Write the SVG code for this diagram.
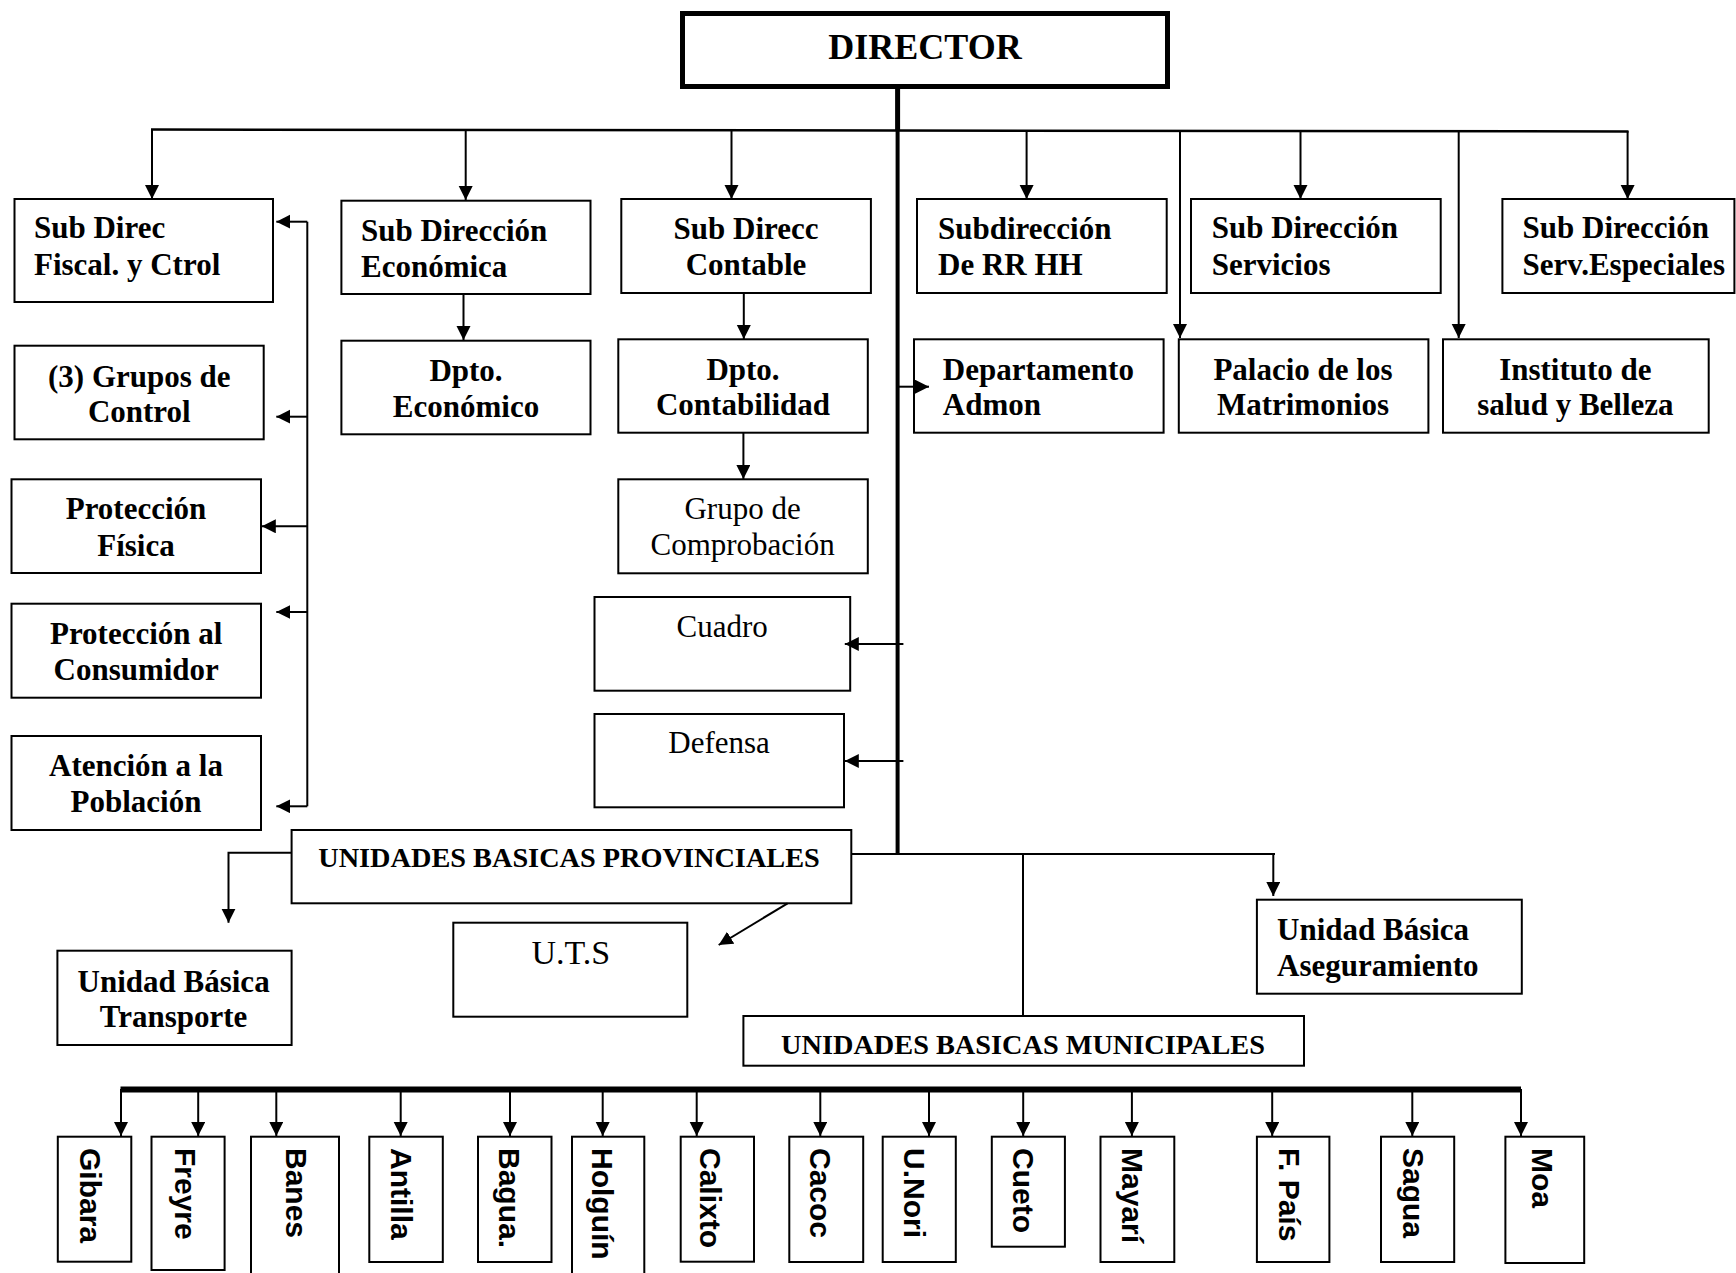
<svg xmlns="http://www.w3.org/2000/svg" width="1736" height="1273" viewBox="0 0 1736 1273">
  <defs>
    <marker id="arrow" markerUnits="userSpaceOnUse" markerWidth="16" markerHeight="16" refX="14" refY="7" orient="auto">
      <path d="M0,0 L14,7 L0,14 z" fill="#000"/>
    </marker>
    <style>
      .box { fill: #fff; stroke: #000; stroke-width: 2; }
      .t { font-family: "Liberation Serif", "Times New Roman", serif; font-weight: bold; font-size: 31px; fill: #000; }
      .r { font-weight: normal; }
      .c { text-anchor: middle; }
      .v { font-family: "Liberation Sans", Arial, sans-serif; font-weight: bold; font-size: 30px; fill: #000; }
      .ln { fill: none; stroke: #000; stroke-width: 2; }
      .arr { fill: none; stroke: #000; stroke-width: 2; marker-end: url(#arrow); }
    </style>
  </defs>

  <rect width="1736" height="1273" fill="#fff"/>

  <!-- nodes -->
  <g id="director">
    <rect x="682.5" y="13.5" width="485" height="73" fill="#fff" stroke="#000" stroke-width="5"/>
    <text class="t c" x="925" y="59" style="font-size:36px">DIRECTOR</text>
  </g>
  <g id="sub-fiscal">
    <rect class="box" x="14.5" y="199" width="258.5" height="103"/>
    <text class="t" x="34" y="238">Sub Direc</text>
    <text class="t" x="34" y="275">Fiscal. y Ctrol</text>
  </g>
  <g id="sub-economica">
    <rect class="box" x="341.4" y="200.7" width="249.1" height="93.3"/>
    <text class="t" x="361" y="240.7">Sub Dirección</text>
    <text class="t" x="361" y="276.7">Económica</text>
  </g>
  <g id="sub-contable">
    <rect class="box" x="621.3" y="199" width="249.6" height="94"/>
    <text class="t c" x="746" y="238.7">Sub Direcc</text>
    <text class="t c" x="746" y="275.3">Contable</text>
  </g>
  <g id="sub-rrhh">
    <rect class="box" x="917" y="199" width="249.7" height="94"/>
    <text class="t" x="938" y="238.7">Subdirección</text>
    <text class="t" x="938" y="275.3">De RR HH</text>
  </g>
  <g id="sub-servicios">
    <rect class="box" x="1191" y="199" width="249.7" height="94"/>
    <text class="t" x="1211.7" y="238">Sub Dirección</text>
    <text class="t" x="1211.7" y="275">Servicios</text>
  </g>
  <g id="sub-serv-especiales">
    <rect class="box" x="1502.4" y="199" width="232" height="94"/>
    <text class="t" x="1522.6" y="238">Sub Dirección</text>
    <text class="t" x="1522.6" y="275">Serv.Especiales</text>
  </g>
  <g id="grupos-control">
    <rect class="box" x="14.5" y="345.7" width="249.2" height="93.6"/>
    <text class="t c" x="139.3" y="386.7">(3) Grupos de</text>
    <text class="t c" x="139.3" y="422.3">Control</text>
  </g>
  <g id="dpto-economico">
    <rect class="box" x="341.4" y="340.7" width="249.1" height="93.6"/>
    <text class="t c" x="466" y="381">Dpto.</text>
    <text class="t c" x="466" y="416.7">Económico</text>
  </g>
  <g id="dpto-contabilidad">
    <rect class="box" x="618.3" y="339.3" width="249.5" height="93.4"/>
    <text class="t c" x="743" y="380">Dpto.</text>
    <text class="t c" x="743" y="415">Contabilidad</text>
  </g>
  <g id="dpto-admon">
    <rect class="box" x="914" y="339.3" width="249.6" height="93.4"/>
    <text class="t" x="942.8" y="380">Departamento</text>
    <text class="t" x="942.8" y="415">Admon</text>
  </g>
  <g id="palacio">
    <rect class="box" x="1178.8" y="339.3" width="249.6" height="93.4"/>
    <text class="t c" x="1303" y="380">Palacio de los</text>
    <text class="t c" x="1303" y="415">Matrimonios</text>
  </g>
  <g id="instituto">
    <rect class="box" x="1443" y="339.3" width="265.7" height="93.4"/>
    <text class="t c" x="1575.4" y="380">Instituto de</text>
    <text class="t c" x="1575.4" y="415">salud y Belleza</text>
  </g>
  <g id="proteccion-fisica">
    <rect class="box" x="11.5" y="479.3" width="249.5" height="93.7"/>
    <text class="t c" x="136" y="519.3">Protección</text>
    <text class="t c" x="136" y="556">Física</text>
  </g>
  <g id="grupo-comprobacion">
    <rect class="box" x="618.3" y="479.3" width="249.5" height="94"/>
    <text class="t r c" x="742.6" y="519">Grupo de</text>
    <text class="t r c" x="742.6" y="555">Comprobación</text>
  </g>
  <g id="proteccion-consumidor">
    <rect class="box" x="11.5" y="603.7" width="249.5" height="94"/>
    <text class="t c" x="136.2" y="644">Protección al</text>
    <text class="t c" x="136.2" y="680">Consumidor</text>
  </g>
  <g id="cuadro">
    <rect class="box" x="594.5" y="597" width="255.7" height="93.7"/>
    <text class="t r c" x="722.2" y="636.7">Cuadro</text>
  </g>
  <g id="defensa">
    <rect class="box" x="594.5" y="714" width="249.5" height="93.3"/>
    <text class="t r c" x="719.1" y="753.3">Defensa</text>
  </g>
  <g id="atencion-poblacion">
    <rect class="box" x="11.5" y="736" width="249.5" height="94"/>
    <text class="t c" x="136" y="775.7">Atención a la</text>
    <text class="t c" x="136" y="812.3">Población</text>
  </g>
  <g id="ub-provinciales">
    <rect class="box" x="291.6" y="830" width="559.7" height="73.3"/>
    <text class="t c" x="569" y="866.7" style="font-size:28.3px">UNIDADES BASICAS PROVINCIALES</text>
  </g>
  <g id="ub-transporte">
    <rect class="box" x="57.4" y="950.7" width="234.2" height="94.3"/>
    <text class="t c" x="173.6" y="991.7">Unidad Básica</text>
    <text class="t c" x="173.6" y="1027.3">Transporte</text>
  </g>
  <g id="uts">
    <rect class="box" x="453.3" y="922.7" width="234" height="94"/>
    <text class="t r c" x="570.8" y="964" style="font-size:34px">U.T.S</text>
  </g>
  <g id="ub-aseguramiento">
    <rect class="box" x="1256.9" y="899.7" width="264.9" height="94"/>
    <text class="t" x="1277" y="940">Unidad Básica</text>
    <text class="t" x="1277" y="975.7">Aseguramiento</text>
  </g>
  <g id="ub-municipales">
    <rect class="box" x="743.4" y="1016" width="560.6" height="49.7"/>
    <text class="t c" x="1023" y="1054" style="font-size:28.3px">UNIDADES BASICAS MUNICIPALES</text>
  </g>

  <!-- municipal units, labels rotated to read downward -->
  <g id="m-gibara">
    <rect class="box" x="57.8" y="1136.7" width="73.5" height="125"/>
    <text class="v" transform="translate(79.5,1148) rotate(90)">Gibara</text>
  </g>
  <g id="m-freyre">
    <rect class="box" x="151.5" y="1136.7" width="73.1" height="133.3"/>
    <text class="v" transform="translate(174.8,1148) rotate(90)">Freyre</text>
  </g>
  <g id="m-banes">
    <rect class="box" x="251" y="1136.7" width="88" height="150"/>
    <text class="v" transform="translate(286.2,1148) rotate(90)">Banes</text>
  </g>
  <g id="m-antilla">
    <rect class="box" x="369.3" y="1136.7" width="73.5" height="125.3"/>
    <text class="v" transform="translate(391,1148) rotate(90)">Antilla</text>
  </g>
  <g id="m-bagua">
    <rect class="box" x="478" y="1136.7" width="73.5" height="125.3"/>
    <text class="v" transform="translate(498.9,1148) rotate(90)">Bagua.</text>
  </g>
  <g id="m-holguin">
    <rect class="box" x="572" y="1136.7" width="72.3" height="150"/>
    <text class="v" transform="translate(592.2,1148) rotate(90)">Holguín</text>
  </g>
  <g id="m-calixto">
    <rect class="box" x="680.7" y="1136.7" width="73.3" height="125"/>
    <text class="v" transform="translate(700.2,1148) rotate(90)">Calixto</text>
  </g>
  <g id="m-cacoc">
    <rect class="box" x="789.3" y="1136.7" width="73.9" height="125.3"/>
    <text class="v" transform="translate(810.2,1148) rotate(90)">Cacoc</text>
  </g>
  <g id="m-unori">
    <rect class="box" x="882.7" y="1136.7" width="73.1" height="125.3"/>
    <text class="v" transform="translate(904.1,1148) rotate(90)">U.Nori</text>
  </g>
  <g id="m-cueto">
    <rect class="box" x="991.8" y="1136.7" width="73.1" height="110"/>
    <text class="v" transform="translate(1013.2,1148) rotate(90)">Cueto</text>
  </g>
  <g id="m-mayari">
    <rect class="box" x="1100.5" y="1136.7" width="73.8" height="125.3"/>
    <text class="v" transform="translate(1122.2,1148) rotate(90)">Mayarí</text>
  </g>
  <g id="m-fpais">
    <rect class="box" x="1256.9" y="1136.7" width="72.5" height="125.3"/>
    <text class="v" transform="translate(1278.8,1148) rotate(90)">F. País</text>
  </g>
  <g id="m-sagua">
    <rect class="box" x="1381" y="1136.7" width="73.2" height="125.3"/>
    <text class="v" transform="translate(1402.7,1148) rotate(90)">Sagua</text>
  </g>
  <g id="m-moa">
    <rect class="box" x="1505.4" y="1136.7" width="78.8" height="126.3"/>
    <text class="v" transform="translate(1531.6,1148) rotate(90)">Moa</text>
  </g>

  <!-- connectors, drawn over the boxes so arrowheads that reach inside stay visible -->
  <g id="connectors">
    <!-- director stem and main trunk -->
    <line class="ln" x1="897.6" y1="89" x2="897.6" y2="131" style="stroke-width:5"/>
    <line class="ln" x1="897.6" y1="130" x2="897.6" y2="855" style="stroke-width:4"/>
    <!-- top distribution bus -->
    <line class="ln" x1="151" y1="129.5" x2="1628.5" y2="131.5" style="stroke-width:2.5"/>
    <line class="arr" x1="152" y1="130" x2="152" y2="199"/>
    <line class="arr" x1="465.7" y1="130" x2="465.7" y2="200"/>
    <line class="arr" x1="731.5" y1="130" x2="731.5" y2="199"/>
    <line class="arr" x1="1026.6" y1="130" x2="1026.6" y2="199"/>
    <line class="arr" x1="1180" y1="130" x2="1180" y2="338"/>
    <line class="arr" x1="1300.5" y1="131" x2="1300.5" y2="199"/>
    <line class="arr" x1="1458.7" y1="131" x2="1458.7" y2="338"/>
    <line class="arr" x1="1627.6" y1="131" x2="1627.6" y2="199"/>
    <!-- second level -->
    <line class="arr" x1="463.5" y1="294" x2="463.5" y2="340"/>
    <line class="arr" x1="743.8" y1="293" x2="743.8" y2="339"/>
    <line class="arr" x1="743.4" y1="432.7" x2="743.4" y2="479"/>
    <line class="arr" x1="899" y1="386.7" x2="929" y2="386.7"/>
    <line class="arr" x1="903.4" y1="644" x2="844.8" y2="644"/>
    <line class="arr" x1="903.4" y1="761" x2="844.8" y2="761"/>
    <!-- left control column -->
    <line class="ln" x1="307.3" y1="221.7" x2="307.3" y2="806.3"/>
    <line class="arr" x1="307.3" y1="221.7" x2="276.3" y2="221.7"/>
    <line class="arr" x1="307.3" y1="416.7" x2="276.3" y2="416.7"/>
    <line class="arr" x1="307.3" y1="526.3" x2="261.8" y2="526.3"/>
    <line class="arr" x1="307.3" y1="612" x2="276.3" y2="612"/>
    <line class="arr" x1="307.3" y1="806.3" x2="276.3" y2="806.3"/>
    <!-- basic units -->
    <line class="ln" x1="851.3" y1="854" x2="1275" y2="854"/>
    <line class="arr" x1="1273.3" y1="854" x2="1273.3" y2="896"/>
    <line class="ln" x1="1023" y1="854" x2="1023" y2="1016"/>
    <path class="arr" d="M291.6,852.7 H228.5 V922.7"/>
    <line class="arr" x1="787.6" y1="903.3" x2="718.7" y2="945"/>
    <!-- municipal bus -->
    <line class="ln" x1="120.5" y1="1089.5" x2="1521" y2="1089.5" style="stroke-width:6"/>
    <line class="arr" x1="121" y1="1089" x2="121" y2="1136"/>
    <line class="arr" x1="198.2" y1="1089" x2="198.2" y2="1136"/>
    <line class="arr" x1="276.3" y1="1089" x2="276.3" y2="1136"/>
    <line class="arr" x1="400.7" y1="1089" x2="400.7" y2="1136"/>
    <line class="arr" x1="510" y1="1089" x2="510" y2="1136"/>
    <line class="arr" x1="602.7" y1="1089" x2="602.7" y2="1136"/>
    <line class="arr" x1="696.7" y1="1089" x2="696.7" y2="1136"/>
    <line class="arr" x1="820.3" y1="1089" x2="820.3" y2="1136"/>
    <line class="arr" x1="929" y1="1089" x2="929" y2="1136"/>
    <line class="arr" x1="1023.2" y1="1089" x2="1023.2" y2="1136"/>
    <line class="arr" x1="1131.9" y1="1089" x2="1131.9" y2="1136"/>
    <line class="arr" x1="1272.2" y1="1089" x2="1272.2" y2="1136"/>
    <line class="arr" x1="1412.3" y1="1089" x2="1412.3" y2="1136"/>
    <line class="arr" x1="1521" y1="1089" x2="1521" y2="1136"/>
  </g>
</svg>
